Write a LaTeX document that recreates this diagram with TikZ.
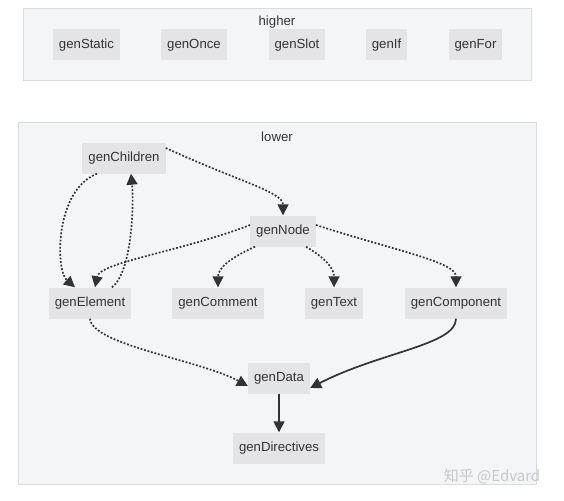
\documentclass[tikz,border=0pt]{standalone}
\usepackage{fontspec}
\setmainfont{Liberation Sans}
\newfontfamily\cjk{Noto Sans CJK SC}
\usetikzlibrary{arrows.meta}
\definecolor{clfill}{HTML}{F4F5F7}
\definecolor{clline}{HTML}{DCDCDE}
\definecolor{ndfill}{HTML}{E4E4E7}
\definecolor{ink}{HTML}{333333}
\definecolor{wm}{HTML}{C8C8CC}
\begin{document}
\begin{tikzpicture}[x=1pt,y=-1pt,
  cluster/.style={draw=clline,fill=clfill,line width=0.8pt},
  nd/.style={fill=ndfill,text=ink,inner xsep=6pt,minimum height=31pt,font=\fontsize{13.2}{15}\selectfont},
  lbl/.style={text=ink,font=\fontsize{13.2}{15}\selectfont},
  tip/.style={-{Triangle[length=11pt,width=11pt]}},
  dot/.style={tip,draw=ink,line width=1.7pt,dash pattern=on 1.8pt off 1.8pt},
  sol/.style={tip,draw=ink,line width=1.7pt}]
\useasboundingbox (0,0) rectangle (564,500);
% clusters
\draw[cluster] (23,8) rectangle (531,80);
\node[lbl] (hl) at (277,22.5) {higher};
\draw[cluster] (18,122) rectangle (536,484);
\node[lbl] (ll) at (277,136.5) {lower};
% higher nodes
\node[nd] (gs) at (86.5,45) {genStatic};
\node[nd] (go) at (194,45) {genOnce};
\node[nd] (gsl) at (297,45) {genSlot};
\node[nd] (gi) at (386.5,45) {genIf};
\node[nd] (gf) at (475.5,45) {genFor};
% lower nodes
\node[nd] (gc) at (124,158) {genChildren};
\node[nd] (gn) at (283,231) {genNode};
\node[nd] (ge) at (90,303) {genElement};
\node[nd] (gco) at (218,303) {genComment};
\node[nd] (gt) at (334,303) {genText};
\node[nd] (gcp) at (456,303) {genComponent};
\node[nd] (gd) at (279,378) {genData};
\node[nd] (gdir) at (279,448) {genDirectives};
% edges
\draw[dot] ([yshift=10]gc.east) .. controls (240,182) and (283,192) .. (gn.north);
\draw[dot] ([xshift=-27]gc.south) .. controls (55,190) and (55,270) .. ([xshift=-15]ge.north);
\draw[dot] ([xshift=22]ge.north) .. controls (132,272) and (134,205) .. ([xshift=7]gc.south);
\draw[dot] ([yshift=6]gn.west) .. controls (180,252) and (100,262) .. ([xshift=5]ge.north);
\draw[dot] ([xshift=-28]gn.south) .. controls (230,258) and (218,268) .. (gco.north);
\draw[dot] ([xshift=23]gn.south) .. controls (325,258) and (334,268) .. (gt.north);
\draw[dot] ([yshift=6]gn.east) .. controls (400,252) and (456,262) .. (gcp.north);
\draw[dot] (ge.south) .. controls (92,345) and (200,360) .. ([yshift=-8]gd.west);
\draw[sol] (gcp.south) .. controls (456,345) and (380,352) .. ([yshift=-10]gd.east);
\draw[sol] (gd.south) -- (gdir.north);
% watermark
\node[text=wm,font=\cjk\fontsize{15}{18}\selectfont] (wmk) at (492,476) {知乎 @Edvard};
\end{tikzpicture}
\end{document}
